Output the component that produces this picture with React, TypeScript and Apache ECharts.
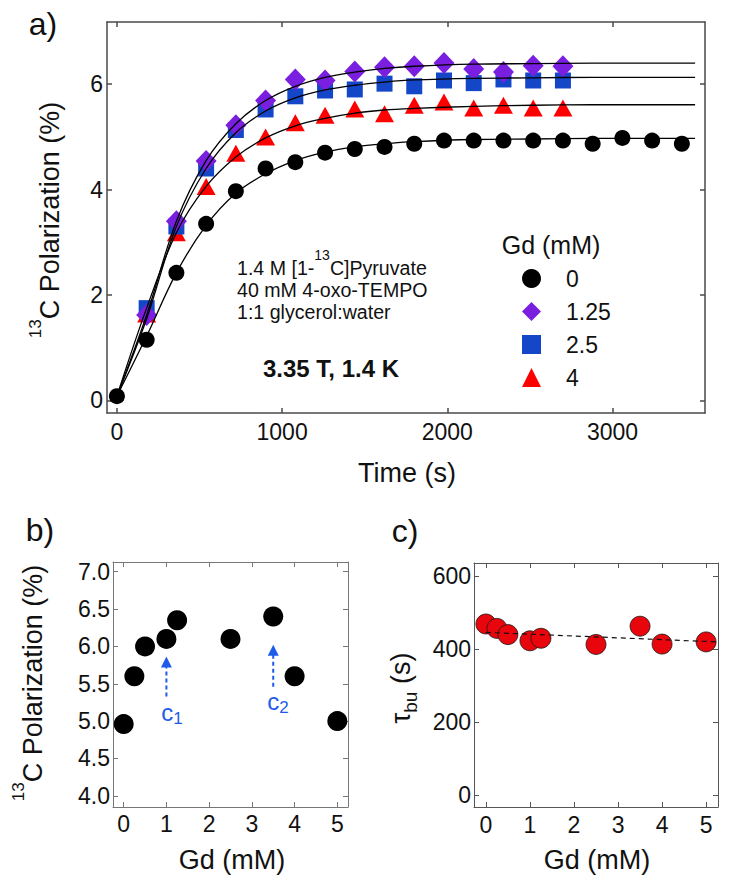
import React, { useEffect, useRef } from "react";
import * as echarts from "echarts";

// ---------- Panel a: build-up curves ----------
const timeGd0 = [0, 180, 360, 540, 720, 900, 1080, 1260, 1440, 1620, 1800, 1980, 2160, 2340, 2520, 2700, 2880, 3060, 3240, 3420];
const polGd0 = [0.08, 1.15, 2.42, 3.35, 3.97, 4.4, 4.52, 4.7, 4.77, 4.81, 4.87, 4.93, 4.93, 4.93, 4.93, 4.93, 4.87, 4.98, 4.93, 4.87];
const timeGd = [180, 360, 540, 720, 900, 1080, 1260, 1440, 1620, 1800, 1980, 2160, 2340, 2520, 2700];
const polGd125 = [1.62, 3.4, 4.54, 5.22, 5.69, 6.09, 6.07, 6.24, 6.32, 6.34, 6.4, 6.29, 6.23, 6.35, 6.34];
const polGd25 = [1.75, 3.3, 4.4, 5.13, 5.52, 5.77, 5.88, 5.9, 6.01, 5.96, 6.07, 6.02, 6.09, 6.07, 6.07];
const polGd4 = [1.64, 3.18, 4.06, 4.69, 5.0, 5.27, 5.41, 5.53, 5.44, 5.6, 5.66, 5.55, 5.6, 5.55, 5.55];

const fitTime = [0, 180, 360, 540, 720, 900, 1080, 1260, 1440, 1620, 1800, 2160, 2520, 2880, 3240, 3500];
const fitGd0 = [0.08, 1.22, 2.42, 3.32, 3.93, 4.3, 4.55, 4.71, 4.81, 4.87, 4.91, 4.95, 4.96, 4.97, 4.97, 4.97];
const fitGd125 = [0.08, 1.62, 3.4, 4.55, 5.25, 5.69, 5.96, 6.13, 6.23, 6.3, 6.34, 6.38, 6.39, 6.4, 6.4, 6.4];
const fitGd25 = [0.08, 1.55, 3.3, 4.4, 5.08, 5.49, 5.74, 5.89, 5.98, 6.04, 6.08, 6.11, 6.12, 6.13, 6.13, 6.13];
const fitGd4 = [0.08, 1.75, 3.18, 4.06, 4.62, 4.98, 5.21, 5.35, 5.45, 5.51, 5.54, 5.58, 5.6, 5.61, 5.61, 5.61];

const timeTicks = [0, 1000, 2000, 3000];
const polTicks = [0, 2, 4, 6];
const legendNames = ["0", "1.25", "2.5", "4"];

// ---------- Panel b: max polarization vs Gd ----------
const gdConc = [0, 0.25, 0.5, 1, 1.25, 2.5, 3.5, 4, 5];
const polMax = [4.96, 5.6, 6.0, 6.1, 6.35, 6.1, 6.4, 5.6, 5.0];
const gdTicks = [0, 1, 2, 3, 4, 5];
const polMaxTicks = [4, 4.5, 5, 5.5, 6, 6.5, 7];
const arrowC1 = [[1, 5.33], [1, 5.79]];
const arrowC2 = [[3.5, 5.46], [3.5, 5.95]];

// ---------- Panel c: build-up time vs Gd ----------
const tauBu = [469, 457, 440, 423, 430, 413, 463, 414, 420];
const tauTicks = [0, 200, 400, 600];
const tauTrend = [[0, 446], [5.25, 420]];

const FONT = "'Liberation Sans', Arial, Helvetica, sans-serif";
const BLUE_ARROW = "#1f5bea";

const pairs = (xs: number[], ys: number[]) => xs.map((x, i) => [x, ys[i]]);

function measure(s: string, size: number, weight = "normal") {
  const ctx = document.createElement("canvas").getContext("2d");
  if (!ctx) return s.length * size * 0.5;
  ctx.font = `${weight} ${size}px ${FONT}`;
  return ctx.measureText(s).width;
}

function axisPair(
  kind: "x" | "y",
  grid: number,
  min: number,
  max: number,
  ticks: number[],
  frame: string,
  frameW: number,
  labelMargin: number,
  fmt?: (v: number) => string
) {
  const base: any = {
    type: "value",
    gridIndex: grid,
    min,
    max,
    splitLine: { show: false },
    axisLine: { show: true, onZero: false, lineStyle: { color: frame, width: frameW } },
    axisTick: { show: true, inside: true, length: 5, customValues: ticks, lineStyle: { color: frame, width: frameW } },
  };
  const main = {
    ...base,
    position: kind === "x" ? "bottom" : "left",
    axisLabel: {
      show: true,
      customValues: ticks,
      margin: labelMargin,
      fontSize: 23,
      fontFamily: FONT,
      color: "#111",
      formatter: fmt ? fmt : (v: number) => String(v),
    },
  };
  const mirror = { ...base, position: kind === "x" ? "top" : "right", axisLabel: { show: false } };
  return [main, mirror];
}

function txt(x: number, y: number, text: string, fontSize: number, extra: any = {}) {
  return {
    type: "text",
    x,
    y,
    rotation: extra.rotation || 0,
    style: {
      text,
      fontSize,
      fontFamily: FONT,
      fontWeight: extra.fontWeight || "normal",
      fill: extra.fill || "#111",
      align: extra.align || "center",
      verticalAlign: "middle",
      lineHeight: extra.lineHeight,
      rich: extra.rich,
    },
  };
}

function supRich(main: number, sup: number, lh: number, fill = "#111") {
  return {
    m: { fontSize: main, fontFamily: FONT, fill, lineHeight: lh },
    s: { fontSize: sup, fontFamily: FONT, fill, lineHeight: sup, verticalAlign: "top" },
  };
}
function subRich(main: number, sub: number, lh: number, fill = "#111") {
  return {
    m: { fontSize: main, fontFamily: FONT, fill, lineHeight: lh },
    s: { fontSize: sub, fontFamily: FONT, fill, lineHeight: sub, verticalAlign: "bottom" },
  };
}

export default function App() {
  const ref = useRef<HTMLDivElement>(null);
  useEffect(() => {
    if (!ref.current) return;
    const chart = echarts.init(ref.current, undefined, { renderer: "svg" });
    const [xa, xa2] = axisPair("x", 0, -60, 3560, timeTicks, "#4a4a4a", 1.5, 7);
    const [ya, ya2] = axisPair("y", 0, -0.24, 7.18, polTicks, "#4a4a4a", 1.5, 4);
    const [xb, xb2] = axisPair("x", 1, -0.25, 5.25, gdTicks, "#777", 1, 5);
    const [yb, yb2] = axisPair("y", 1, 3.85, 7.13, polMaxTicks, "#777", 1, 3, (v) => v.toFixed(1));
    const [xc, xc2] = axisPair("x", 2, -0.27, 5.27, gdTicks, "#555", 1, 6);
    const [yc, yc2] = axisPair("y", 2, -32, 636, tauTicks, "#555", 1, 3);

    const fitLine = (name: string, ys: number[]) => ({
      type: "line",
      name,
      xAxisIndex: 0,
      yAxisIndex: 0,
      data: pairs(fitTime, ys),
      smooth: 0.35,
      symbol: "none",
      showSymbol: false,
      silent: true,
      z: 5,
      lineStyle: { color: "#000", width: 1.3 },
    });

    // annotation block (line 1 split for the superscript)
    const annFont = 19.6;
    const supFont = 14;
    const annX = 237;
    const part1 = "1.4 M [1-";
    const w1 = measure(part1, annFont);
    const w13 = measure("13", supFont);

    const scatterStyle = (color: string) => ({ color, opacity: 1 });

    const option: any = {
      animation: false,
      backgroundColor: "#fff",
      grid: [
        { left: 107, top: 22, width: 598, height: 391, outerBoundsMode: "none" },
        { left: 113, top: 562, width: 235, height: 245, outerBoundsMode: "none" },
        { left: 474, top: 563, width: 244, height: 244, outerBoundsMode: "none" },
      ],
      xAxis: [xa, xa2, xb, xb2, xc, xc2],
      yAxis: [ya, ya2, yb, yb2, yc, yc2],
      legend: {
        left: 517,
        top: 262,
        orient: "vertical",
        itemWidth: 19,
        itemHeight: 19,
        itemGap: 10,
        selectedMode: false,
        data: [
          { name: legendNames[0], icon: "circle" },
          { name: legendNames[1], icon: "diamond" },
          { name: legendNames[2], icon: "rect" },
          { name: legendNames[3], icon: "triangle" },
        ],
        formatter: (name: string) => `{g|}{v|${name}}`,
        textStyle: {
          fontSize: 23,
          fontFamily: FONT,
          color: "#111",
          rich: {
            g: { width: 20, lineHeight: 19 },
            v: { fontSize: 23, fontFamily: FONT, color: "#111", lineHeight: 19 },
          },
        },
      },
      series: [
        { type: "scatter", name: legendNames[0], xAxisIndex: 0, yAxisIndex: 0, data: pairs(timeGd0, polGd0), symbol: "circle", symbolSize: 16, itemStyle: scatterStyle("#000") },
        { type: "scatter", name: legendNames[3], xAxisIndex: 0, yAxisIndex: 0, data: pairs(timeGd, polGd4), symbol: "triangle", symbolSize: [19, 17], itemStyle: scatterStyle("#ff0000") },
        { type: "scatter", name: legendNames[2], xAxisIndex: 0, yAxisIndex: 0, data: pairs(timeGd, polGd25), symbol: "rect", symbolSize: 16, itemStyle: scatterStyle("#1446c8") },
        { type: "scatter", name: legendNames[1], xAxisIndex: 0, yAxisIndex: 0, data: pairs(timeGd, polGd125), symbol: "diamond", symbolSize: [21, 22], itemStyle: scatterStyle("#7a1fe0") },
        fitLine("fit 0", fitGd0),
        fitLine("fit 1.25", fitGd125),
        fitLine("fit 2.5", fitGd25),
        fitLine("fit 4", fitGd4),
        // panel b
        { type: "scatter", name: "Pmax", xAxisIndex: 2, yAxisIndex: 2, data: pairs(gdConc, polMax), symbol: "circle", symbolSize: 20, itemStyle: scatterStyle("#000") },
        ...[arrowC1, arrowC2].map((a, i) => ({
          type: "line",
          name: "arrow" + i,
          xAxisIndex: 2,
          yAxisIndex: 2,
          silent: true,
          symbol: "triangle",
          showSymbol: true,
          data: [
            { value: a[0], symbol: "none" },
            { value: a[1], symbol: "triangle", symbolSize: [11, 11] },
          ],
          lineStyle: { color: BLUE_ARROW, width: 2, type: [4, 3] },
          itemStyle: { color: BLUE_ARROW, opacity: 1 },
        })),
        // panel c
        { type: "scatter", name: "tau", xAxisIndex: 4, yAxisIndex: 4, data: pairs(gdConc, tauBu), symbol: "circle", symbolSize: 20, itemStyle: { color: "#e8050c", borderColor: "#1a1a1a", borderWidth: 0.8, opacity: 1 } },
        { type: "line", name: "trend", xAxisIndex: 4, yAxisIndex: 4, data: tauTrend, symbol: "none", showSymbol: false, silent: true, z: 5, lineStyle: { color: "#111", width: 1.2, type: [5, 4] } },
      ],
      graphic: [
        txt(43, 24, "a)", 32),
        txt(40, 530, "b)", 32),
        txt(405, 531, "c)", 32),
        txt(50, 220, "{s|13}{m|C Polarization (%)}", 27, { rotation: Math.PI / 2, rich: supRich(27, 17, 46) }),
        txt(33, 683, "{s|13}{m|C Polarization (%)}", 27, { rotation: Math.PI / 2, rich: supRich(27, 17, 46) }),
        txt(401, 688, "{m|τ}{s|bu}{m| (s)}", 27, { rotation: Math.PI / 2, rich: subRich(27, 19, 38) }),
        txt(407, 473, "Time (s)", 27),
        txt(232, 860, "Gd (mM)", 27),
        txt(597, 860, "Gd (mM)", 27),
        txt(annX, 268, part1, annFont, { align: "left", lineHeight: 20 }),
        txt(annX + w1, 255, "13", supFont, { align: "left", lineHeight: 14 }),
        txt(annX + w1 + w13, 268, "C]Pyruvate", annFont, { align: "left", lineHeight: 20 }),
        txt(annX, 290, "40 mM 4-oxo-TEMPO", annFont, { align: "left", lineHeight: 20 }),
        txt(annX, 312, "1:1 glycerol:water", annFont, { align: "left", lineHeight: 20 }),
        txt(331, 368, "3.35 T, 1.4 K", 24, { fontWeight: "bold" }),
        txt(551, 245, "Gd (mM)", 25),
        txt(172, 712, "{m|c}{s|1}", 24, { rich: subRich(24, 17, 30, BLUE_ARROW) }),
        txt(278, 701, "{m|c}{s|2}", 24, { rich: subRich(24, 17, 30, BLUE_ARROW) }),
      ],
    };
    chart.setOption(option);
    return () => chart.dispose();
  }, []);
  return (
    <div
      ref={ref}
      style={{ position: "absolute", left: 0, top: 0, width: 729, height: 886, background: "#fff" }}
    />
  );
}
